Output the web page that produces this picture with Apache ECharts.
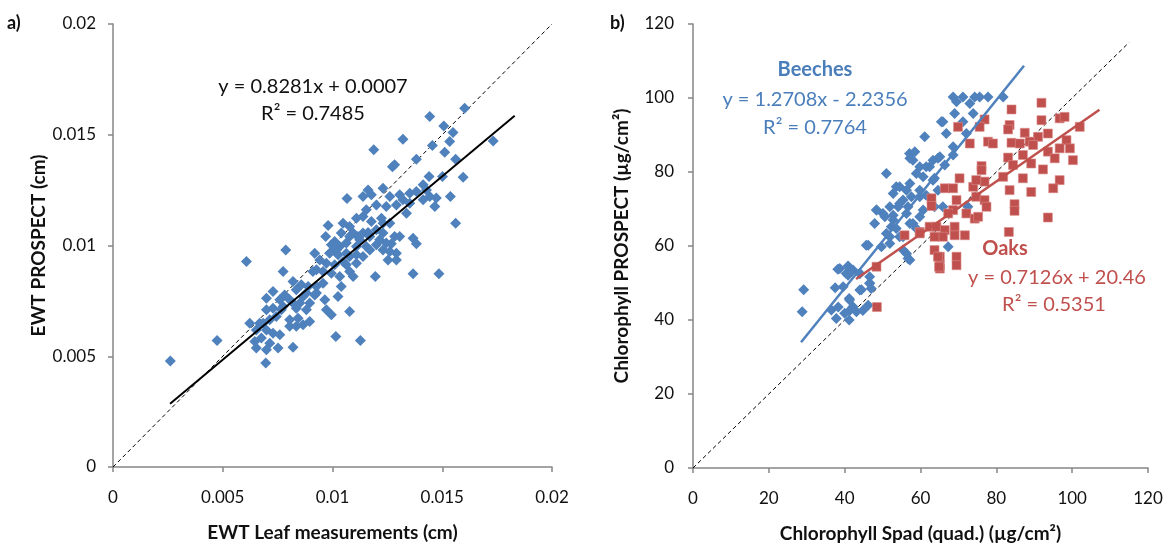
<!DOCTYPE html>
<html><head><meta charset="utf-8">
<script src="https://cdn.jsdelivr.net/npm/echarts@6/dist/echarts.min.js"></script>
<style>html,body{margin:0;padding:0;background:#fff}#c{width:1171px;height:546px}</style>
</head><body><div id="c"></div>
<script>
// ---- Panel a: EWT (values in 1e-4 cm) ----
const ewtLeaf = [160.2,144.3,150.7,154.9,153.4,132.1,145.5,118.8,151.1,173.2,156.1,138.2,128.3,127.3,159.5,150.1,144.0,116.2,123.0,106.6,113.9,117.7,126.1,130.6,135.2,138.2,141.3,144.3,147.3,153.7,146.6,133.7,129.1,124.5,120.0,115.4,110.9,113.9,117.7,122.3,126.1,156.1,98.0,104.8,107.8,109.4,111.6,116.2,120.0,123.0,128.3,126.8,130.6,136.7,138.2,78.7,96.9,101.0,103.3,106.3,110.9,115.4,120.0,123.0,126.1,129.1,91.9,98.7,102.5,107.8,113.9,117.0,60.8,94.2,97.2,101.0,106.3,110.9,125.3,129.1,77.5,91.1,95.7,99.5,103.3,107.8,109.4,119.5,136.7,148.5,82.0,85.8,88.9,92.7,95.7,104.0,83.5,88.1,91.9,96.5,102.5,69.9,72.9,76.0,78.2,80.5,85.1,89.6,69.9,72.9,76.7,83.5,88.1,97.2,99.5,107.8,62.3,66.8,71.4,74.4,80.5,84.3,89.6,83.5,86.6,65.3,69.9,72.9,76.0,64.6,67.6,71.4,75.2,65.3,69.9,82.0,101.5,112.7,47.4,26.1,69.6,104.0,101.8,106.3,112.4,117.0,121.5,124.5,107.8,113.9,99.5,104.8,110.9,123.0,132.1,135.2,141.3,142.8,86.6,92.7,82.0,77.5,80.5,68.4,92.7];
const ewtProspect = [162.0,158.2,154.0,151.0,146.9,148.0,145.1,143.2,142.1,147.2,138.9,138.9,136.4,135.6,130.8,131.1,131.1,125.1,125.9,121.2,122.1,122.9,122.1,122.9,123.6,124.4,127.4,122.1,121.4,122.1,117.6,114.6,118.3,117.6,118.3,116.1,112.3,113.1,110.8,112.3,110.1,110.1,109.0,110.1,108.6,105.6,104.1,105.9,107.1,105.6,104.1,100.8,104.1,103.3,100.8,98.0,104.1,101.8,99.5,101.1,99.5,99.5,100.3,98.0,97.3,96.5,96.5,96.5,95.8,95.0,95.0,98.0,92.8,93.5,92.0,91.3,91.3,92.0,93.5,93.5,88.3,88.3,88.3,87.5,86.0,88.3,86.0,86.0,87.2,87.2,83.8,82.3,81.5,81.5,83.0,81.5,80.0,78.5,77.7,75.5,77.0,76.2,79.2,75.5,77.7,75.5,74.0,74.0,71.0,71.7,71.0,71.7,71.0,71.0,68.7,70.2,64.9,64.9,66.5,68.0,66.5,67.2,65.7,63.5,64.2,61.9,61.9,60.4,59.7,56.7,58.2,55.9,53.7,53.7,52.9,54.1,58.9,57.1,57.1,47.9,46.9,105.6,98.0,96.5,102.6,104.1,102.6,101.1,104.1,105.6,100.3,92.8,95.8,110.1,120.6,119.1,120.6,125.1,77.0,78.5,74.0,72.5,63.5,64.9,89.0];
const ewtScale = 1e-4;
const trendA = {slope: 0.8281, intercept: 0.0007, xFrom: 0.0026, xTo: 0.0183};

// ---- Panel b: chlorophyll ----
const beechSpad = [29.2,28.8,37.5,38.2,40.9,42.2,41.2,42.2,40.0,37.8,41.2,43.1,46.2,36.5,46.2,51.0,48.4,50.6,52.8,54.1,53.6,57.1,58.0,61.1,65.5,64.6,62.4,59.8,60.7,63.7,56.3,57.6,55.4,56.7,59.8,60.7,63.7,58.0,51.9,49.7,51.9,54.5,56.7,55.4,52.3,38.7,40.9,44.0,46.6,44.4,47.0,68.6,71.2,74.3,75.6,77.8,81.8,69.5,73.0,69.0,73.9,65.9,71.2,66.8,72.1,68.6,68.6,58.5,57.2,63.3,65.1,66.4,61.5,58.9,54.5,57.2,59.8,63.3,64.6,61.5,65.9,52.8,51.9,54.5,56.3,50.1,48.4,47.9,52.8,53.6,57.2,59.8,58.9,55.4,51.0,45.7,56.3,57.2,67.3,72.5,41.3,40.4,44.0,46.6,46.6,44.0,39.6,38.3,41.3,41.3,44.8];
const beechProspect = [48.2,42.2,48.7,53.7,54.6,53.5,45.8,43.6,41.8,40.4,40.0,42.2,44.0,42.7,60.2,79.6,69.7,67.9,68.3,70.6,76.0,85.0,83.2,89.5,93.6,83.7,81.4,81.4,78.7,78.3,75.1,73.3,72.4,70.6,73.3,69.7,70.6,66.1,62.5,59.8,60.7,62.5,56.6,58.9,65.2,53.9,52.1,52.6,49.9,48.2,48.5,100.3,100.3,100.3,100.3,100.3,100.3,99.0,98.5,95.8,95.8,93.6,93.6,90.4,90.4,86.8,84.6,85.5,83.7,83.2,84.1,81.9,81.4,79.6,76.0,76.9,75.1,77.8,75.1,73.7,70.6,74.2,70.6,71.5,68.8,68.8,69.7,66.1,67.0,64.7,66.1,67.9,64.7,62.5,63.4,60.2,58.0,56.2,59.8,70.6,53.9,52.6,52.6,51.7,49.9,48.1,49.0,43.5,45.4,42.6,42.6];
const oakSpad = [91.9,84.0,69.9,76.9,75.6,83.5,83.1,91.9,96.7,98.0,102.0,87.5,93.6,91.0,73.0,77.8,79.1,84.0,86.2,88.8,89.7,98.5,96.7,99.4,93.6,95.4,100.2,83.1,87.0,89.2,92.3,76.1,76.1,84.4,96.7,95.0,81.8,87.0,89.2,83.5,73.9,76.9,74.7,70.3,66.4,68.6,69.5,62.9,62.9,68.6,74.7,76.9,77.4,84.8,84.8,72.1,74.3,75.2,67.3,93.6,62.4,64.2,69.0,59.8,55.8,66.4,65.9,69.0,71.7,63.7,83.3,63.7,65.1,69.5,65.1,69.5,65.1,48.4,48.5,59.8,64.6,64.9];
const oakProspect = [98.7,96.9,92.2,94.2,92.2,92.7,91.5,94.0,94.5,94.9,92.2,90.6,90.4,89.5,87.7,88.2,87.7,87.9,87.7,88.2,87.3,88.6,86.4,86.4,85.5,83.7,83.2,83.9,84.6,82.3,80.7,81.6,80.5,81.9,77.8,75.6,78.7,78.3,74.6,75.1,76.0,77.4,77.8,78.3,75.6,75.6,72.4,72.9,70.8,69.7,73.3,72.4,70.6,71.3,69.5,68.8,67.4,67.9,68.8,67.7,65.2,65.2,65.2,63.8,62.9,64.3,62.5,62.9,62.9,62.5,63.8,58.9,57.1,57.1,54.8,54.8,53.9,54.4,43.5,63.4,57.1,54.4];
const trendBeech = {slope: 1.2708, intercept: -2.2356, xFrom: 28.5, xTo: 87.3};
const trendOak = {slope: 0.7126, intercept: 20.46, xFrom: 43.0, xTo: 107.2};

const xTicksA = [0, 0.005, 0.01, 0.015, 0.02];
const xTicksB = [0, 20, 40, 60, 80, 100, 120];

function pairs(xs, ys, s) { return xs.map((x, i) => [x * s, ys[i] * s]); }
function trend(t) { return [[t.xFrom, t.slope * t.xFrom + t.intercept], [t.xTo, t.slope * t.xTo + t.intercept]]; }

const FONT = 'Lato, "Open Sans", sans-serif';
const BLUE = '#4f81bd', RED = '#c0504d';
const axisLine = {show: true, lineStyle: {color: '#868686', width: 1.5}};
const axisTick = {show: true, inside: false, length: 5, lineStyle: {color: '#868686', width: 1.5}};
const lab = {color: '#111', fontSize: 17, fontFamily: FONT};
const nameStyle = {color: '#111', fontSize: 19, fontWeight: 'bold', fontFamily: FONT};
const fmtA = v => String(+(+v).toFixed(3));

const chart = echarts.init(document.getElementById('c'), null, {renderer: 'canvas'});
chart.setOption({
  animation: false,
  backgroundColor: '#fff',
  grid: [
    {left: 113, top: 24, width: 439, height: 443, containLabel: false, outerBoundsMode: 'none'},
    {left: 693, top: 24, width: 455, height: 444, containLabel: false, outerBoundsMode: 'none'}
  ],
  xAxis: [
    {gridIndex: 0, type: 'value', min: xTicksA[0], max: xTicksA[xTicksA.length-1], interval: 0.005,
     splitLine: {show: false}, axisLine, axisTick, axisLabel: Object.assign({margin: 22, formatter: fmtA}, lab),
     name: 'EWT Leaf measurements (cm)', nameLocation: 'middle', nameGap: 56, nameTextStyle: nameStyle},
    {gridIndex: 1, type: 'value', min: xTicksB[0], max: xTicksB[xTicksB.length-1], interval: 20,
     splitLine: {show: false}, axisLine, axisTick, axisLabel: Object.assign({margin: 22}, lab),
     name: 'Chlorophyll Spad (quad.) (µg/cm²)', nameLocation: 'middle', nameGap: 56, nameTextStyle: nameStyle}
  ],
  yAxis: [
    {gridIndex: 0, type: 'value', min: 0, max: 0.02, interval: 0.005,
     splitLine: {show: false}, axisLine, axisTick, axisLabel: Object.assign({margin: 17, formatter: fmtA}, lab),
     name: 'EWT PROSPECT (cm)', nameLocation: 'middle', nameGap: 56, nameTextStyle: nameStyle},
    {gridIndex: 1, type: 'value', min: 0, max: 120, interval: 20,
     splitLine: {show: false}, axisLine, axisTick, axisLabel: Object.assign({margin: 19}, lab),
     name: 'Chlorophyll PROSPECT (µg/cm²)', nameLocation: 'middle', nameGap: 62, nameTextStyle: nameStyle}
  ],
  series: [
    {type: 'line', xAxisIndex: 0, yAxisIndex: 0, data: [[0,0],[0.02,0.02]], symbol: 'none',
     lineStyle: {color: '#000', width: 1, type: [4, 3]}, z: 1},
    {type: 'scatter', xAxisIndex: 0, yAxisIndex: 0, data: pairs(ewtLeaf, ewtProspect, ewtScale),
     symbol: 'diamond', symbolSize: 11, itemStyle: {color: BLUE, opacity: 1}, z: 2},
    {type: 'line', xAxisIndex: 0, yAxisIndex: 0, data: trend(trendA), symbol: 'none',
     lineStyle: {color: '#000', width: 2}, z: 3},
    {type: 'line', xAxisIndex: 1, yAxisIndex: 1, data: [[0,0],[115,115]], symbol: 'none',
     lineStyle: {color: '#000', width: 1, type: [4, 3]}, z: 1},
    {type: 'scatter', xAxisIndex: 1, yAxisIndex: 1, data: pairs(beechSpad, beechProspect, 1),
     symbol: 'diamond', symbolSize: 11, itemStyle: {color: BLUE, opacity: 1}, z: 2},
    {type: 'scatter', xAxisIndex: 1, yAxisIndex: 1, data: pairs(oakSpad, oakProspect, 1),
     symbol: 'rect', symbolSize: 9, itemStyle: {color: RED, opacity: 1, borderColor: '#d98c8a', borderWidth: 0.6}, z: 2},
    {type: 'line', xAxisIndex: 1, yAxisIndex: 1, data: trend(trendBeech), symbol: 'none',
     lineStyle: {color: BLUE, width: 2.5}, z: 3},
    {type: 'line', xAxisIndex: 1, yAxisIndex: 1, data: trend(trendOak), symbol: 'none',
     lineStyle: {color: RED, width: 2.5}, z: 3}
  ],
  graphic: [
    {type: 'text', left: 7, top: 14, style: {text: 'a)', font: 'bold 18px ' + FONT, fill: '#111'}},
    {type: 'text', left: 610, top: 14, style: {text: 'b)', font: 'bold 18px ' + FONT, fill: '#111'}},
    {type: 'text', x: 313, y: 87, style: {text: 'y = 0.8281x + 0.0007', font: '20px ' + FONT, fill: '#111', align: 'center', verticalAlign: 'middle'}},
    {type: 'text', x: 313, y: 114, style: {text: 'R² = 0.7485', font: '20px ' + FONT, fill: '#111', align: 'center', verticalAlign: 'middle'}},
    {type: 'text', x: 815, y: 70, style: {text: 'Beeches', font: 'bold 20px ' + FONT, fill: '#4a7ebb', align: 'center', verticalAlign: 'middle'}},
    {type: 'text', x: 815, y: 100, style: {text: 'y = 1.2708x - 2.2356', font: '20px ' + FONT, fill: '#4a7ebb', align: 'center', verticalAlign: 'middle'}},
    {type: 'text', x: 815, y: 128, style: {text: 'R² = 0.7764', font: '20px ' + FONT, fill: '#4a7ebb', align: 'center', verticalAlign: 'middle'}},
    {type: 'text', x: 1005, y: 249, style: {text: 'Oaks', font: 'bold 20px ' + FONT, fill: RED, align: 'center', verticalAlign: 'middle'}},
    {type: 'text', x: 1057, y: 278, style: {text: 'y = 0.7126x + 20.46', font: '20px ' + FONT, fill: RED, align: 'center', verticalAlign: 'middle'}},
    {type: 'text', x: 1054, y: 305, style: {text: 'R² = 0.5351', font: '20px ' + FONT, fill: RED, align: 'center', verticalAlign: 'middle'}}
  ]
});
</script></body></html>
